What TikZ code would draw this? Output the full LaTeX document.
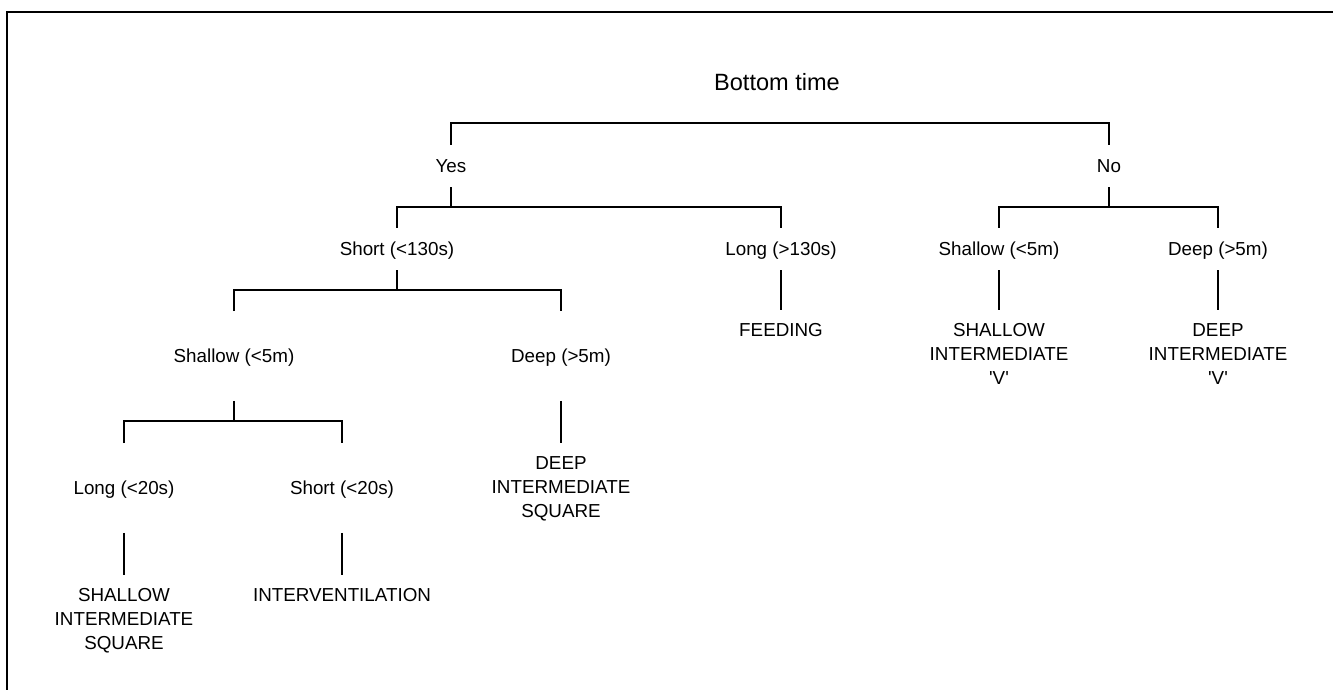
\documentclass[tikz,border=0pt]{standalone}
\usepackage{fontspec}
\setmainfont{Liberation Sans}[Ligatures=TeXOff]
\usepackage{tikz}

\tikzset{
  title/.style={font=\fontsize{13.4}{16}\selectfont, inner sep=0pt},
  lvl/.style={font=\fontsize{10.7}{13.6}\selectfont, inner sep=0pt,
    text height=7.7pt, text depth=0pt, minimum height=0.84cm},
  lvlwide/.style={lvl, minimum height=1.78cm},
  leaf/.style={font=\fontsize{10.7}{13.6}\selectfont, align=center,
    anchor=north, inner xsep=0pt, inner ysep=7.5pt},
  branch/.style={line width=1pt},
  stem/.style={line width=0.7pt},
  frame/.style={line width=1.4pt}
}

\begin{document}
\begin{tikzpicture}[x=0.02cm,y=-0.02cm]
        \useasboundingbox (0,0) rectangle (1333,690);
        % outer frame
        \draw[frame] (7,700) |- (1345,12);
        % title
        \node[title] (btime) at (777,82) {Bottom time};
        % first split
        \node[lvl] (yes) at (451,166) {Yes};
        \node[lvl] (no) at (1109,166) {No};
        % second split
        \node[lvl] (short130) at (397,249) {Short (<130s)};
        \node[lvl] (long130) at (781,249) {Long (>130s)};
        \node[lvl] (noshallow) at (999,249) {Shallow (<5m)};
        \node[lvl] (nodeep) at (1218,249) {Deep (>5m)};
        % third split
        \node[lvlwide] (shallow) at (234,356) {Shallow (<5m)};
        \node[lvlwide] (deep) at (561,356) {Deep (>5m)};
        % fourth split
        \node[lvlwide] (long20) at (124,488) {Long (<20s)};
        \node[lvlwide] (short20) at (342,488) {Short (<20s)};
        % dive types
        \node[leaf] (feeding) at (781,310) {FEEDING};
        \node[leaf] (shallowv) at (999,310) {SHALLOW\\INTERMEDIATE\\'V'};
        \node[leaf] (deepv) at (1218,310) {DEEP\\INTERMEDIATE\\'V'};
        \node[leaf] (deepsq) at (561,443) {DEEP\\INTERMEDIATE\\SQUARE};
        \node[leaf] (shallowsq) at (124,575) {SHALLOW\\INTERMEDIATE\\SQUARE};
        \node[leaf] (interv) at (342,575) {INTERVENTILATION};
        % bar points
        \coordinate (topbar) at (780,123);
        \coordinate (yesbar) at (451,207);
        \coordinate (nobar) at (1109,207);
        \coordinate (shortbar) at (397,290);
        \coordinate (shallowbar) at (234,421);
        % branches
        \draw[branch] (yes) |- (topbar) -| (no);
        \draw[branch] (yes) -- (yesbar);
        \draw[branch] (short130) |- (yesbar) -| (long130);
        \draw[branch] (no) -- (nobar);
        \draw[branch] (noshallow) |- (nobar) -| (nodeep);
        \draw[branch] (short130) -- (shortbar);
        \draw[branch] (shallow) |- (shortbar) -| (deep);
        \draw[branch] (shallow) -- (shallowbar);
        \draw[branch] (long20) |- (shallowbar) -| (short20);
        % stems to dive types
        \draw[stem] (long130) -- (feeding);
        \draw[stem] (noshallow) -- (shallowv);
        \draw[stem] (nodeep) -- (deepv);
        \draw[branch] (deep) -- (deepsq);
        \draw[stem] (long20) -- (shallowsq);
        \draw[stem] (short20) -- (interv);
      \end{tikzpicture}
\end{document}
